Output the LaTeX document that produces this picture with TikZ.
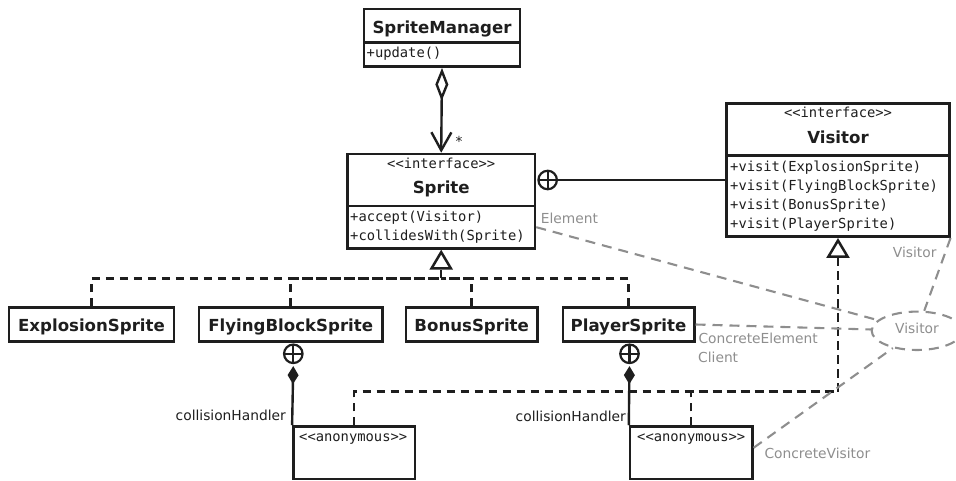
\documentclass[tikz,border=0pt]{standalone}
\usepackage{fontspec}
\setmainfont{DejaVu Sans}
\setmonofont{DejaVu Sans Mono}
\usetikzlibrary{arrows.meta,shapes.geometric}

\definecolor{ink}{HTML}{1E1E1E}
\definecolor{roleGray}{HTML}{8E8E8E}

\newcommand\clsfont{\fontsize{16.6}{20}\selectfont\bfseries}
\newcommand\mthfont{\fontsize{13.8}{19}\selectfont\ttfamily}
\newcommand\lblfont{\fontsize{13.8}{16}\selectfont}

\tikzset{
  box/.style={draw=ink, line width=2.5pt, inner sep=0pt, fill=white},
  classbox/.style={box, font=\clsfont, text=ink, text height=14.4pt, text depth=0pt},
  clsname/.style={font=\clsfont, text=ink, inner sep=0pt},
  method/.style={font=\mthfont, text=ink, inner sep=0pt},
  lbl/.style={font=\lblfont, text=ink, inner sep=0pt},
  rolelbl/.style={font=\lblfont, text=roleGray, inner sep=0pt},
  nest/.style={circle, draw=ink, line width=2.2pt, minimum size=18.5pt, inner sep=0pt,
    path picture={\draw[ink, line width=2.2pt]
      (path picture bounding box.north) -- (path picture bounding box.south)
      (path picture bounding box.west) -- (path picture bounding box.east);}},
  assoc/.style={draw=ink, line width=2.4pt},
  realize/.style={draw=ink, line width=2.5pt, dash pattern=on 8.3pt off 5.7pt},
  realtip/.style={-{Triangle[open, length=20pt, width=23pt]}},
  collabline/.style={draw=roleGray, line width=2.1pt, dash pattern=on 10pt off 7pt},
}

\begin{document}
\begin{tikzpicture}[x=1pt, y=-1pt]
\useasboundingbox (0,0) rectangle (956,481);

% ---- SpriteManager ----
\node[box, minimum width=156pt, minimum height=33.7pt] (smh) at (442,25.85) {};
\node[box, minimum width=156pt, minimum height=24pt] (smm) at (442,54.7) {};
\node[clsname, anchor=base] (smname) at (442,33.3) {SpriteManager};
\node[method, anchor=base west] (smup) at (366.5,57.3) {+update()};

% ---- Sprite ----
\node[box, minimum width=187.7pt, minimum height=52pt] (sprh) at (441.2,180) {};
\node[box, minimum width=187.7pt, minimum height=42.3pt] (sprm) at (441.2,227.2) {};
\node[method, anchor=base] (sprst) at (441.2,168.3) {<<interface>>};
\node[clsname, anchor=base] (sprname) at (441.2,193.3) {Sprite};
\node[method, anchor=base west] (sprm1) at (350,221.5) {+accept(Visitor)};
\node[method, anchor=base west] (sprm2) at (350,240.5) {+collidesWith(Sprite)};

% ---- Visitor ----
\node[box, minimum width=222.6pt, minimum height=52.4pt] (vish) at (838,129.5) {};
\node[box, minimum width=222.6pt, minimum height=81pt] (vism) at (838,196.2) {};
\node[method, anchor=base] (visst) at (838,117.3) {<<interface>>};
\node[clsname, anchor=base] (visname) at (838,143.3) {Visitor};
\node[method, anchor=base west] (vism1) at (730,171.7) {+visit(ExplosionSprite)};
\node[method, anchor=base west] (vism2) at (730,190.7) {+visit(FlyingBlockSprite)};
\node[method, anchor=base west] (vism3) at (730,209.5) {+visit(BonusSprite)};
\node[method, anchor=base west] (vism4) at (730,228.3) {+visit(PlayerSprite)};

% ---- concrete sprites ----
\node[classbox, minimum width=165pt, minimum height=34.4pt] (ex) at (91.5,324.5) {ExplosionSprite};
\node[classbox, minimum width=183.3pt, minimum height=34.4pt] (fb) at (290.7,324.5) {FlyingBlockSprite};
\node[classbox, minimum width=131.3pt, minimum height=34.4pt] (bs) at (471.7,324.5) {BonusSprite};
\node[classbox, minimum width=131.5pt, minimum height=34.4pt] (ps) at (628.5,324.5) {PlayerSprite};

% ---- anonymous collision handlers ----
\node[box, minimum width=121.7pt, minimum height=52.6pt] (anonL) at (354.2,452.8) {};
\node[method, anchor=base west] (anonLt) at (299,441) {<<anonymous>>};
\node[box, minimum width=122.3pt, minimum height=52.6pt] (anonR) at (691.2,452.8) {};
\node[method, anchor=base west] (anonRt) at (637,441) {<<anonymous>>};

% ---- SpriteManager aggregates Sprites ----
\draw[assoc, {Diamond[open, length=33pt, width=13pt]}-{Straight Barb[length=18pt, width=20pt]}]
  (smm.south) -- (sprh.north);
\node[lbl, anchor=base west] (mult) at (455.5,147) {*};

% ---- Visitor nested in Sprite ----
\node[nest, anchor=west] (nestS) at ([xshift=1pt]sprh.east) {};
\draw[assoc] (nestS.east) -- (vism.west |- nestS.east);

% ---- sprites realize Sprite ----
\coordinate (sjunc) at (441.2,278.3);
\draw[realize] (ex.north) |- (sjunc);
\draw[realize] (fb.north) |- (sjunc);
\draw[realize] (bs.north) |- (sjunc);
\draw[realize] (ps.north) |- (sjunc);
\draw[realize, realtip] (sjunc) -- (sprm.south);

% ---- nested anonymous handlers (composition) ----
\node[nest] (nestFB) at (293.3,353.8) {};
\node[nest] (nestPS) at (629.5,353.8) {};
\draw[assoc, -{Diamond[length=18pt, width=11pt]}, shorten >=2pt] (anonL.north west) -- (nestFB.south);
\draw[assoc, -{Diamond[length=18pt, width=11pt]}, shorten >=2pt] (anonR.north west) -- (nestPS.south);
\node[lbl, anchor=base east] (chL) at (286,420) {collisionHandler};
\node[lbl, anchor=base east] (chR) at (626,421) {collisionHandler};

% ---- handlers realize Visitor ----
\coordinate (vjunc) at (838,391.7);
\draw[realize] (anonL.north) |- (vjunc);
\draw[realize] (anonR.north) |- (vjunc);
\draw[realize, realtip] (vjunc) -- (vism.south);

% ---- Visitor pattern collaboration ----
\node[ellipse, draw=roleGray, line width=2.1pt, dash pattern=on 10pt off 7pt,
      minimum width=90.6pt, minimum height=38.4pt, inner sep=0pt,
      font=\lblfont, text=roleGray, text height=4.6pt, text depth=0pt] (collab) at (917,330.8) {Visitor};
\draw[collabline] (sprm.east) -- (collab);
\draw[collabline] (vism.south east) -- (collab);
\draw[collabline] (ps.east) -- (collab);
\draw[collabline] ([yshift=5pt]anonR.east) -- (collab);
\node[rolelbl, anchor=base west] (rElem) at (540.7,224) {Element};
\node[rolelbl, anchor=base west] (rVis) at (892.7,257.3) {Visitor};
\node[rolelbl, anchor=base west] (rCE) at (698.3,343.3) {ConcreteElement};
\node[rolelbl, anchor=base west] (rCl) at (698,362.7) {Client};
\node[rolelbl, anchor=base west] (rCV) at (764.3,458.3) {ConcreteVisitor};
\end{tikzpicture}
\end{document}
